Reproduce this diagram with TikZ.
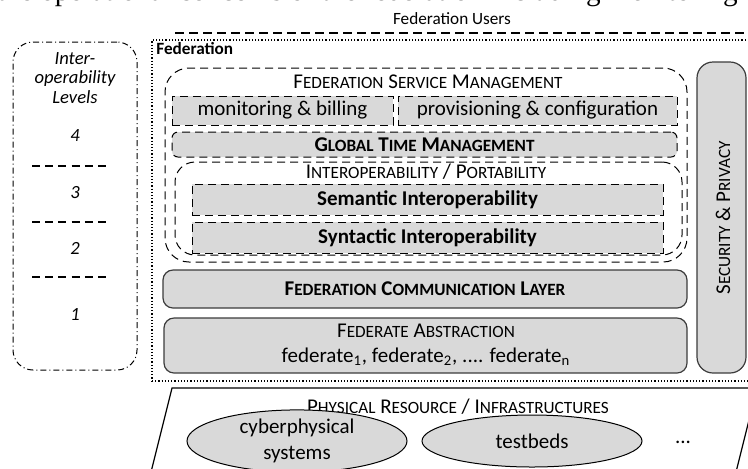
\documentclass[tikz,border=0pt]{standalone}
\usepackage{fontspec}
\setmainfont{Carlito}
\newfontfamily\captionserif{Liberation Serif}
\usetikzlibrary{positioning, shapes.geometric, fit, backgrounds}
\definecolor{boxgray}{RGB}{217,217,217}
\definecolor{edgegray}{RGB}{60,60,60}
% small capitals, done by hand
\newcommand{\smc}[1]{{\fontsize{8.6}{10}\selectfont #1}}

\begin{document}
\begin{tikzpicture}[x=0.5pt, y=-0.5pt,
    % --- styles for the boxes and labels ---
    every node/.style={font=\fontsize{10.5}{13}\selectfont, inner sep=0},
    smalltext/.style={font=\fontsize{8.6}{10}\selectfont},
    groupbox/.style={draw, dash pattern=on 4pt off 2.5pt, line width=0.5pt},
    dashedbox/.style={groupbox, fill=boxgray},
    layerbox/.style={draw=edgegray, fill=boxgray, rounded corners=5pt, line width=0.6pt},
    levelbox/.style={draw, rounded corners=10pt, line width=0.5pt,
        dash pattern=on 3pt off 1.5pt on 0.5pt off 1.5pt},
    leveltext/.style={font=\fontsize{9.3}{9.8}\selectfont\itshape, align=center},
    levelsep/.style={line width=1.2pt, dash pattern=on 4pt off 2.6pt},
    resource/.style={ellipse, draw, fill=boxgray, line width=0.5pt,
        minimum width=110pt, minimum height=26pt, align=center}
]
\useasboundingbox (0,0) rectangle (748,468);
\begin{scope}
\clip (0,0) rectangle (748,468);

% 1. Line of the page above the figure
\node[anchor=base east, font=\captionserif\fontsize{14.6}{16}\selectfont] (pagetext) at (738,0.5)
    {the operational concerns of the federation including monitoring};

% 2. Users on top of the federation
\node[smalltext] (users) at (452,19) {Federation Users};
\coordinate (usersl) at (175,33);
\coordinate (usersr) at (752,33);
\draw[line width=1pt, dash pattern=on 4.5pt off 2.5pt] (usersl) -- (usersr);

% 3. Interoperability levels on the left
\node[levelbox, fit={(13,42) (137,370)}] (levels) {};
\node[leveltext] (levtitle) at (75,78) {Inter-\\operability\\Levels};
\node[leveltext] (lev4) at (75,136) {4};
\node[leveltext] (lev3) at (75,193) {3};
\node[leveltext] (lev2) at (75,248) {2};
\node[leveltext] (lev1) at (75,315) {1};
\draw[levelsep] (32,166) -- (108,166);
\draw[levelsep] (32,222) -- (108,222);
\draw[levelsep] (32,277) -- (108,277);

% 4. Federation frame
\node[draw, densely dotted, line width=0.6pt, fit={(152,40) (760,381)}] (fed) {};
\node[anchor=west, font=\fontsize{8.6}{10}\selectfont\bfseries] (fedlabel) at (156,49) {Federation};

% 5. Federation service management
\node[groupbox, rounded corners=12pt, fit={(165,68) (687,262)}] (fsm) {};
\node (fsmlabel) at (428,82) {F\smc{EDERATION} S\smc{ERVICE} M\smc{ANAGEMENT}};
\node[dashedbox, fit={(172,96) (393,125)}] (monitor) {};
\node (monitortext) at (monitor.center) {monitoring \& billing};
\node[dashedbox, fit={(398,96) (677,125)}] (provision) {};
\node (provisiontext) at (provision.center) {provisioning \& configuration};
\node[dashedbox, rounded corners=3pt, fit={(172,132) (677,157)}] (gtm) {};
\node (gtmtext) at (gtm.center) {\bfseries G\smc{LOBAL} T\smc{IME} M\smc{ANAGEMENT}};

% 6. Interoperability / portability
\node[groupbox, rounded corners=10pt, fit={(175,162) (682,255)}] (interop) {};
\node (interoplabel) at (426,172) {I\smc{NTEROPERABILITY} / P\smc{ORTABILITY}};
\node[dashedbox, fit={(192,184) (663,215)}] (semantic) {};
\node (semantictext) at (semantic.center) {\bfseries Semantic Interoperability};
\node[dashedbox, fit={(192,222) (663,253)}] (syntactic) {};
\node (syntactictext) at (syntactic.center) {\bfseries Syntactic Interoperability};

% 7. Communication layer and federates
\node[layerbox, fit={(163,270) (687,308)}] (comm) {};
\node (commtext) at (comm.center) {\bfseries F\smc{EDERATION} C\smc{OMMUNICATION} L\smc{AYER}};
\node[layerbox, fit={(164,318) (687,373)}] (federates) {};
\node (abstracttext) at (426,331) {F\smc{EDERATE} A\smc{BSTRACTION}};
\node (federatestext) at (426,357)
    {federate\textsubscript{1}, federate\textsubscript{2}, .... federate\textsubscript{n}};

% 8. Security and privacy
\node[layerbox, rounded corners=8pt, fit={(697,62) (746,373)}] (security) {};
\node[rotate=90] (sectext) at (723,218) {S\smc{ECURITY} \& P\smc{RIVACY}};

% 9. Physical resources below
\coordinate (physbl) at (147,488);
\coordinate (phystl) at (172,388);
\coordinate (phystr) at (757,388);
\coordinate (physbr) at (732,488);
\draw[line width=0.6pt] (physbl) -- (phystl) -- (phystr) -- (physbr);
\node (physlabel) at (458,407) {P\smc{HYSICAL} R\smc{ESOURCE} / I\smc{NFRASTRUCTURES}};
\node[resource] (cps) at (297,441) {cyberphysical\\systems};
\node[resource] (testbeds) at (532,441) {testbeds};
\node (more) at (683,442) {...};
\end{scope}
\end{tikzpicture}
\end{document}
